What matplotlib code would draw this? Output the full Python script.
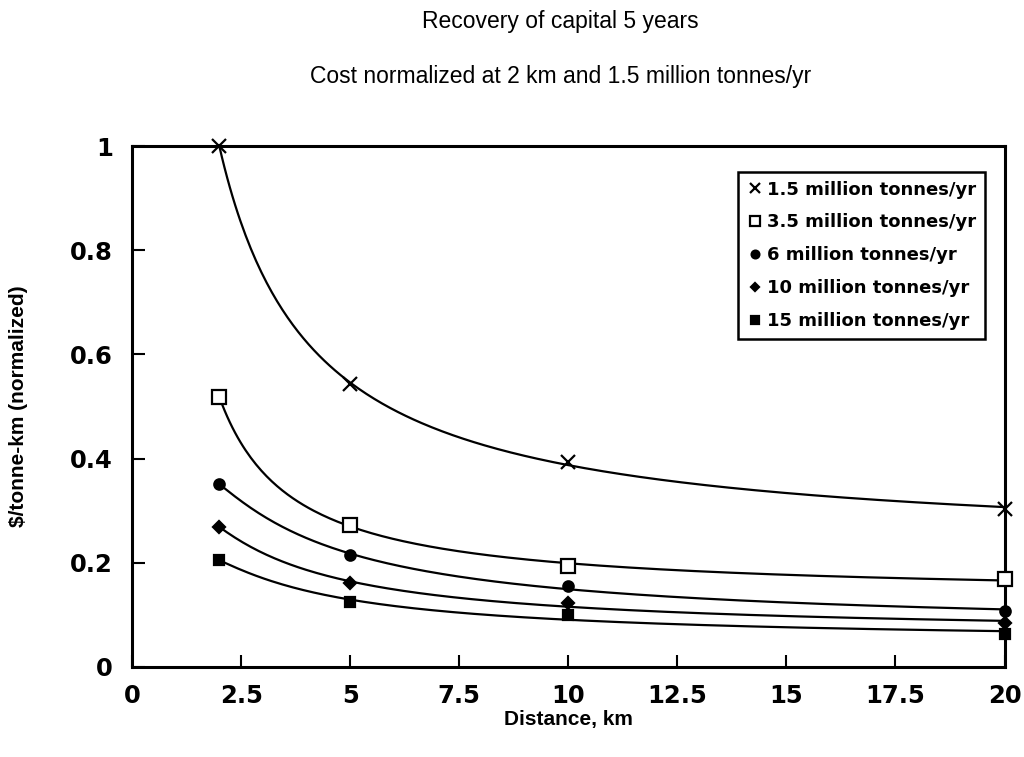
import numpy as np
import matplotlib.pyplot as plt

plt.rcParams['font.family'] = ['Liberation Sans', 'DejaVu Sans']

distance = [2, 5, 10, 20]
series_labels = ['1.5 million tonnes/yr', '3.5 million tonnes/yr', '6 million tonnes/yr',
                 '10 million tonnes/yr', '15 million tonnes/yr']
cost_15 = [1.0, 0.543, 0.394, 0.303]
cost_35 = [0.518, 0.272, 0.194, 0.169]
cost_6 = [0.351, 0.215, 0.155, 0.107]
cost_10 = [0.269, 0.161, 0.123, 0.084]
cost_15m = [0.205, 0.125, 0.100, 0.063]
all_costs = [cost_15, cost_35, cost_6, cost_10, cost_15m]
markers = ['x', 's', 'o', 'D', 's']
filled = [True, False, True, True, True]
msizes = [10, 9.5, 7.5, 6, 7]
x_ticks = [0, 2.5, 5, 7.5, 10, 12.5, 15, 17.5, 20]
x_ticklabels = ['0', '2.5', '5', '7.5', '10', '12.5', '15', '17.5', '20']
y_ticks = [0, 0.2, 0.4, 0.6, 0.8, 1.0]
y_ticklabels = ['0', '0.2', '0.4', '0.6', '0.8', '1']

fig = plt.figure(figsize=(10.24, 7.57), dpi=100)
ax = fig.add_axes([0.129, 0.119, 0.852, 0.688])

x = np.array(distance, dtype=float)
xs = np.linspace(x.min(), x.max(), 300)
for costs, lab, m, f, ms in zip(all_costs, series_labels, markers, filled, msizes):
    y = np.array(costs)
    # smooth trend line: quadratic in 1/distance, fitted to the points
    coef = np.polyfit(1 / x, y, 2)
    ax.plot(xs, np.polyval(coef, 1 / xs), color='black', lw=1.6, zorder=2)
    ax.plot(x, y, linestyle='none', marker=m, ms=ms, mew=1.6,
            mfc='black' if f else 'white', mec='black', label=lab, zorder=3,
            clip_on=False)

ax.set_xlim(0, 20)
ax.set_ylim(0, 1)
ax.set_xticks(x_ticks)
ax.set_xticklabels(x_ticklabels, fontsize=17.5, fontweight='bold', family='DejaVu Sans')
ax.set_yticks(y_ticks)
ax.set_yticklabels(y_ticklabels, fontsize=17.5, fontweight='bold', family='DejaVu Sans')
ax.tick_params(axis='y', direction='in', length=9, width=1.5, pad=14)
ax.tick_params(axis='x', direction='in', length=9, width=1.5, pad=12)
for s in ax.spines.values():
    s.set_linewidth(2.2)

ax.set_xlabel('Distance, km', fontsize=15, fontweight='bold', labelpad=2)
ax.set_ylabel(r'\$/tonne-km (normalized)', fontsize=15, fontweight='bold', labelpad=30)

fig.text(0.547, 0.972, 'Recovery of capital 5 years', ha='center', va='center', fontsize=16.5)
fig.text(0.547, 0.899, 'Cost normalized at 2 km and 1.5 million tonnes/yr',
         ha='center', va='center', fontsize=16.5)

leg = ax.legend(loc='upper right', bbox_to_anchor=(0.978, 0.951), borderaxespad=0,
                prop={'weight': 'bold', 'size': 13, 'family': 'DejaVu Sans'},
                fancybox=False, edgecolor='black', framealpha=1, handletextpad=0.2,
                handlelength=0.9, borderpad=0.5, labelspacing=0.82, markerscale=0.75)
leg.get_frame().set_linewidth(1.8)

fig.savefig('out.png', dpi=100)
